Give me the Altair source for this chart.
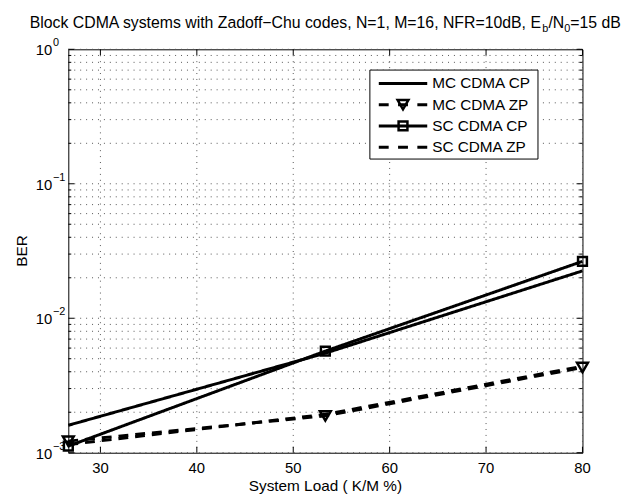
import altair as alt
import pandas as pd

# ---------------- data ----------------
load = [26.67, 53.33, 80.0]
series = ["MC CDMA CP", "MC CDMA ZP", "SC CDMA CP", "SC CDMA ZP"]
mc_cp = [1.6e-3, 5.5e-3, 2.25e-2]
mc_zp = [1.22e-3, 1.88e-3, 4.3e-3]
sc_cp = [1.12e-3, 5.7e-3, 2.65e-2]
sc_zp = [1.15e-3, 1.93e-3, 4.4e-3]

x_ticks = [30, 40, 50, 60, 70, 80]
x_labels = ["30", "40", "50", "60", "70", "80"]
y_decades = [1e-3, 1e-2, 1e-1, 1.0]
y_exponents = ["\u22123", "\u22122", "\u22121", "0"]
y_minor = [2e-3, 3e-3, 4e-3, 5e-3, 6e-3, 7e-3, 8e-3, 9e-3,
           2e-2, 3e-2, 4e-2, 5e-2, 6e-2, 7e-2, 8e-2, 9e-2,
           2e-1, 3e-1, 4e-1, 5e-1, 6e-1, 7e-1, 8e-1, 9e-1]

title_main = "Block CDMA systems with Zadoff\u2212Chu codes, N=1, M=16, NFR=10dB, E"
title_sub1 = "b"
title_mid = "/N"
title_sub2 = "0"
title_end = "=15 dB"
x_title = "System Load ( K/M %)"
y_title = "BER"

# ---------------- layout ----------------
W, H = 520, 408
FONT = "Liberation Sans"
LW = 3
GRID_C, GRID_D = "#555", [1, 5]

rows = []
for name, vals in zip(series, [mc_cp, mc_zp, sc_cp, sc_zp]):
    for xv, yv in zip(load, vals):
        rows.append({"series": name, "load": xv, "ber": yv})
df = pd.DataFrame(rows)

xs = alt.Scale(domain=[26.67, 80], nice=False, zero=False)
ys = alt.Scale(type="log", domain=[1e-3, 1], nice=False)
one = pd.DataFrame({"k": [0]})

def X():
    return alt.X("load:Q", scale=xs, axis=None)

def Y():
    return alt.Y("ber:Q", scale=ys, axis=None)

xt_df = pd.DataFrame({"load": x_ticks, "lab": x_labels})
ydec_df = pd.DataFrame({"ber": y_decades, "exp": y_exponents})
ymin_df = pd.DataFrame({"ber": y_minor})
yall_df = pd.DataFrame({"ber": y_decades + y_minor})

# dotted grid
xgrid = alt.Chart(xt_df).mark_rule(color=GRID_C, strokeDash=GRID_D, strokeWidth=1).encode(
    x=X(), y=alt.value(0), y2=alt.value(H))
ygrid = alt.Chart(yall_df).mark_rule(color=GRID_C, strokeDash=GRID_D, strokeWidth=1).encode(
    y=Y(), x=alt.value(0), x2=alt.value(W))

# inward ticks on all four sides
def yticks(data, length):
    l = alt.Chart(data).mark_rule(color="black", strokeWidth=1).encode(
        y=Y(), x=alt.value(0), x2=alt.value(length))
    r = alt.Chart(data).mark_rule(color="black", strokeWidth=1).encode(
        y=Y(), x=alt.value(W), x2=alt.value(W - length))
    return [l, r]

def xticks(data, length):
    b = alt.Chart(data).mark_rule(color="black", strokeWidth=1).encode(
        x=X(), y=alt.value(H), y2=alt.value(H - length))
    t = alt.Chart(data).mark_rule(color="black", strokeWidth=1).encode(
        x=X(), y=alt.value(0), y2=alt.value(length))
    return [b, t]

tick_layers = yticks(ydec_df, 6) + yticks(ymin_df, 3) + xticks(xt_df, 6)

# tick labels
xlab = alt.Chart(xt_df).mark_text(align="center", baseline="alphabetic", fontSize=15,
                                  font=FONT, color="black").encode(
    x=X(), y=alt.value(H + 20.5), text="lab:N")
ylab10 = alt.Chart(ydec_df).mark_text(align="left", baseline="alphabetic", fontSize=15,
                                      font=FONT, color="black", dy=6).encode(
    y=Y(), x=alt.value(-33), text=alt.value("10"))
ylabexp = alt.Chart(ydec_df).mark_text(align="left", baseline="alphabetic", fontSize=11,
                                       font=FONT, color="black", dy=-3).encode(
    y=Y(), x=alt.value(-15.5), text="exp:N")

# axis titles
xtit = alt.Chart(one).mark_text(align="center", baseline="alphabetic", fontSize=15.5,
                                font=FONT, color="black").encode(
    x=alt.value(W / 2), y=alt.value(H + 38.5), text=alt.value(x_title))
ytit = alt.Chart(one).mark_text(align="center", baseline="middle", fontSize=15.5, angle=270,
                                font=FONT, color="black").encode(
    x=alt.value(-47), y=alt.value(H / 2), text=alt.value(y_title))

# data lines
dash_map = {"MC CDMA CP": [1, 0], "MC CDMA ZP": [10, 7], "SC CDMA CP": [1, 0], "SC CDMA ZP": [10, 7]}
line_layers = []
for name in series:
    line_layers.append(
        alt.Chart(df[df.series == name]).mark_line(
            color="black", strokeWidth=LW, strokeDash=dash_map[name], strokeCap="butt").encode(
            x=X(), y=Y()))

tri = alt.Chart(df[df.series == "MC CDMA ZP"]).mark_point(
    shape="triangle-down", filled=False, color="black", strokeWidth=2.5, size=120, opacity=1).encode(
    x=X(), y=Y())
sq = alt.Chart(df[df.series == "SC CDMA CP"]).mark_point(
    shape="square", filled=False, color="black", strokeWidth=2.5, size=80, opacity=1).encode(
    x=X(), y=Y())

# legend
LX0, LX1, LY0, LY1 = 305, 475, 21, 111
row_y = [34.5, 56, 77.5, 99]
leg_dash = [[1, 0], [10, 9.5], [1, 0], [10, 9.5]]
legend_layers = [alt.Chart(one).mark_rect(fill="white", stroke="black", strokeWidth=1).encode(
    x=alt.value(LX0), x2=alt.value(LX1), y=alt.value(LY0), y2=alt.value(LY1))]
for i, name in enumerate(series):
    legend_layers.append(alt.Chart(one).mark_rule(
        color="black", strokeWidth=LW, strokeDash=leg_dash[i], strokeCap="butt").encode(
        x=alt.value(314), x2=alt.value(363), y=alt.value(row_y[i])))
    legend_layers.append(alt.Chart(pd.DataFrame({"name": [name]})).mark_text(
        align="left", baseline="middle", fontSize=15.5, font=FONT, color="black").encode(
        x=alt.value(368), y=alt.value(row_y[i]), text="name:N"))
legend_layers.append(alt.Chart(one).mark_point(
    shape="triangle-down", filled=False, color="black", strokeWidth=2.5, size=120, opacity=1).encode(
    x=alt.value(338.5), y=alt.value(row_y[1])))
legend_layers.append(alt.Chart(one).mark_point(
    shape="square", filled=False, color="black", strokeWidth=2.5, size=80, opacity=1).encode(
    x=alt.value(338.5), y=alt.value(row_y[2])))

# title with subscripts
TF, SF = 16, 11
em_main = 32.401
tx0 = -39
tb = tx0 + em_main * TF
tn = tb + 0.556 * SF
t0 = tn + 1.0 * TF
te = t0 + 0.556 * SF
TY = -22

def ttext(txt, x, size, dy=0):
    return alt.Chart(one).mark_text(align="left", baseline="alphabetic", fontSize=size,
                                    font=FONT, color="black", dy=dy).encode(
        x=alt.value(x), y=alt.value(TY), text=alt.value(txt))

title_layers = [ttext(title_main, tx0, TF), ttext(title_sub1, tb, SF, 4),
                ttext(title_mid, tn, TF), ttext(title_sub2, t0, SF, 4),
                ttext(title_end, te, TF)]

chart = alt.layer(
    xgrid, ygrid, *tick_layers, *line_layers, tri, sq, xlab, ylab10, ylabexp, xtit, ytit,
    *legend_layers, *title_layers
).properties(
    width=W, height=H,
    background="white",
    autosize=alt.AutoSizeParams(type="none"),
    padding={"left": 61, "top": 39, "right": 42, "bottom": 42},
).configure_view(stroke="black", strokeWidth=1)

chart.save("out.html", embed_options={"renderer": "svg", "actions": False})
